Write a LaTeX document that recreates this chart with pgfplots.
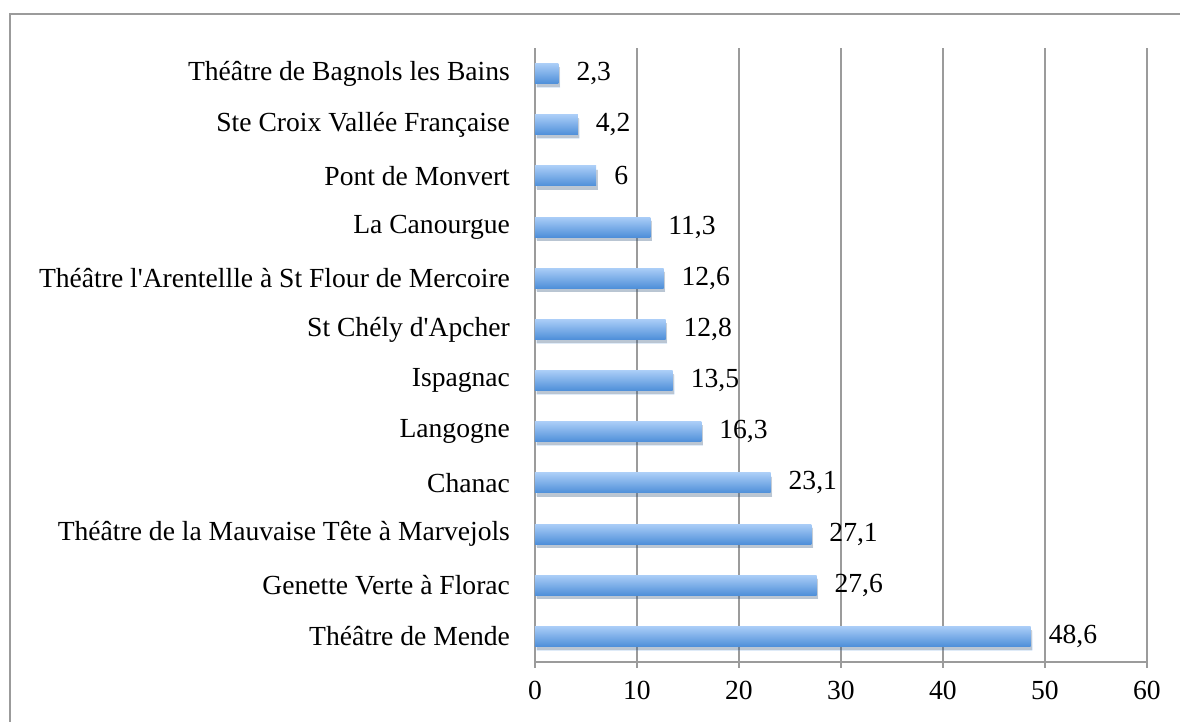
\documentclass[border=0pt]{standalone}
\usepackage{pgfplots}
\pgfplotsset{compat=1.18}
\usepackage{fontspec}
\setmainfont{Liberation Serif}
\usetikzlibrary{shadows}
\definecolor{gridgray}{RGB}{155,155,155}
\definecolor{bartop}{RGB}{170,205,247}
\definecolor{barbot}{RGB}{78,143,217}
\newcommand{\lbl}{\fontsize{13.8}{15}\selectfont}
\begin{document}
\begin{tikzpicture}
\useasboundingbox (0,0) rectangle (590pt,361pt);
\draw[gridgray, line width=1pt] (5pt,-2pt) -- (5pt,354pt) -- (592pt,354pt);
\begin{axis}[
  at={(267.5pt,30pt)}, anchor=south west,
  scale only axis, width=306pt, height=307pt,
  xmin=0, xmax=60, ymin=-0.5, ymax=11.5,
  /pgf/number format/assume math mode=true,
  no marks,
  axis lines=left, axis line style={-, gridgray, line width=1pt},
  xtick={0,10,...,60},
  xmajorgrids, grid style={gridgray, line width=1pt},
  tick style={gridgray, line width=1pt},
  xtick align=outside, major tick length=3pt,
  ytick={0,...,11},
  yticklabels={Théâtre de Mende, Genette Verte à Florac, Théâtre de la Mauvaise Tête à Marvejols, Chanac, Langogne, Ispagnac, St Chély d\textquotesingle Apcher, Théâtre l\textquotesingle Arentellle à St Flour de Mercoire, La Canourgue, Pont de Monvert, Ste Croix Vallée Française, Théâtre de Bagnols les Bains},
  ytick style={draw=none},
  extra y ticks={-0.5,0.5,...,11.5},
  extra y tick labels={},
  extra y tick style={ytick style={gridgray, line width=1pt}, tick align=outside, major tick length=3pt, grid=none},
  yticklabel style={font=\lbl, xshift=-7.5pt},
  xticklabel style={font=\lbl, yshift=-3pt},
  clip=false,
  every axis plot/.append style={xbar, bar width=10pt, bar shift=0pt, draw=none, top color=bartop, bottom color=barbot, mark=none,
    drop shadow={shadow xshift=0.8pt, shadow yshift=-1.8pt, opacity=0.18, fill=black},
    nodes near coords, nodes near coords style={font=\lbl, black, anchor=west, xshift=5.5pt, /pgf/number format/use comma, /pgf/number format/assume math mode=true}},
]
\addplot coordinates {(48.6,0)};
\addplot coordinates {(27.6,1)};
\addplot coordinates {(27.1,2)};
\addplot coordinates {(23.1,3)};
\addplot coordinates {(16.3,4)};
\addplot coordinates {(13.5,5)};
\addplot coordinates {(12.8,6)};
\addplot coordinates {(12.6,7)};
\addplot coordinates {(11.3,8)};
\addplot coordinates {(6,9)};
\addplot coordinates {(4.2,10)};
\addplot coordinates {(2.3,11)};
\end{axis}
\end{tikzpicture}
\end{document}
